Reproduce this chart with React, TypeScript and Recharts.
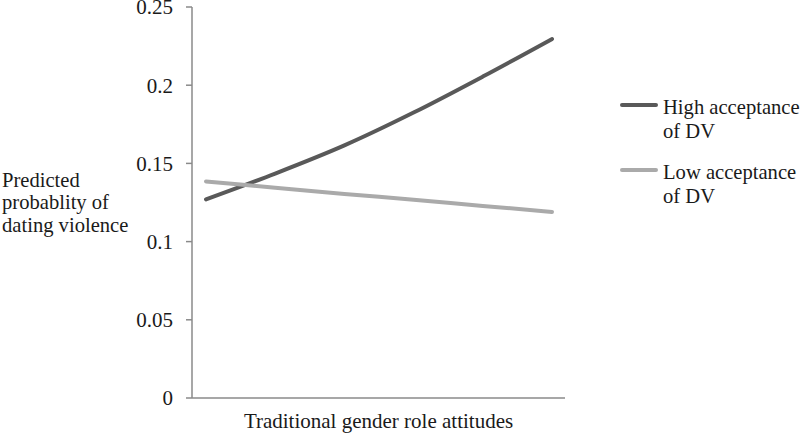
import { LineChart, Line, XAxis, YAxis, Legend } from 'recharts';

const xSteps = [0, 1, 2, 3, 4, 5];
const highAcceptance = [0.127, 0.1435, 0.1615, 0.1825, 0.2055, 0.2295];
const lowAcceptance = [0.1385, 0.1345, 0.1305, 0.1268, 0.1228, 0.119];
const yTicks = [0, 0.05, 0.1, 0.15, 0.2, 0.25];

const seriesNames = ['High acceptance of DV', 'Low acceptance of DV'];
const seriesLines = [['High acceptance', 'of DV'], ['Low acceptance', 'of DV']];

const data = xSteps.map((x, i) => ({ x, high: highAcceptance[i], low: lowAcceptance[i] }));

const FONT = '"Liberation Serif", "Times New Roman", serif';
const INK = '#1a1a1a';

function YLabel(props: any) {
  const vb = props.viewBox || { x: 0, y: 0, height: 0 };
  const cy = vb.y + vb.height / 2;
  const lines = ['Predicted', 'probablity of', 'dating violence'];
  return (
    <text x={2} y={cy - 16} fontFamily={FONT} fontSize={20.6} fill={INK}>
      {lines.map((t, i) => (
        <tspan key={t} x={2} dy={i === 0 ? 0 : 22.5}>{t}</tspan>
      ))}
    </text>
  );
}

function LegendBox(props: any) {
  const items = props.payload || [];
  return (
    <div style={{ fontFamily: FONT, fontSize: 20.6, lineHeight: '24px', color: INK, textAlign: 'left' }}>
      {items.map((item: any, i: number) => (
        <div key={item.value} style={{ position: 'relative', paddingLeft: 43, marginBottom: 17 }}>
          <div style={{
            position: 'absolute', left: 0, top: 8, width: 38, height: 4,
            borderRadius: 2, background: item.color,
          }} />
          {seriesLines[i].map((t) => <div key={t}>{t}</div>)}
        </div>
      ))}
    </div>
  );
}

export default function App() {
  return (
    <div style={{ position: 'absolute', left: 0, top: 0, background: '#fff' }}>
      <LineChart width={800} height={433} data={data} margin={{ top: 7, right: 235, left: 0, bottom: 0 }}>
        <XAxis
          dataKey="x"
          type="number"
          domain={[0, 5]}
          padding={{ left: 14, right: 13 }}
          tick={false}
          tickLine={false}
          height={35}
          axisLine={{ stroke: '#8a8a8a', strokeWidth: 1.5 }}
          label={{
            value: 'Traditional gender role attitudes', position: 'insideBottom', offset: 5,
            fontFamily: FONT, fontSize: 21, fill: INK,
          }}
        />
        <YAxis
          width={192}
          domain={[0, 0.25]}
          ticks={yTicks}
          tickSize={6}
          tickMargin={13}
          interval={0}
          axisLine={{ stroke: '#8a8a8a', strokeWidth: 1.5 }}
          tickLine={{ stroke: '#8a8a8a', strokeWidth: 1.5 }}
          tick={{ fontFamily: FONT, fontSize: 21, fill: INK }}
          label={<YLabel />}
        />
        <Legend
          layout="horizontal"
          verticalAlign="middle"
          align="center"
          content={<LegendBox />}
          wrapperStyle={{ position: 'absolute', left: 620, top: 95, width: 180, height: 'auto' }}
        />
        <Line
          type="monotone"
          dataKey="high"
          name={seriesNames[0]}
          stroke="#595959"
          strokeWidth={4}
          strokeLinecap="round"
          dot={false}
          isAnimationActive={false}
        />
        <Line
          type="monotone"
          dataKey="low"
          name={seriesNames[1]}
          stroke="#aaaaaa"
          strokeWidth={4}
          strokeLinecap="round"
          dot={false}
          isAnimationActive={false}
        />
      </LineChart>
    </div>
  );
}
